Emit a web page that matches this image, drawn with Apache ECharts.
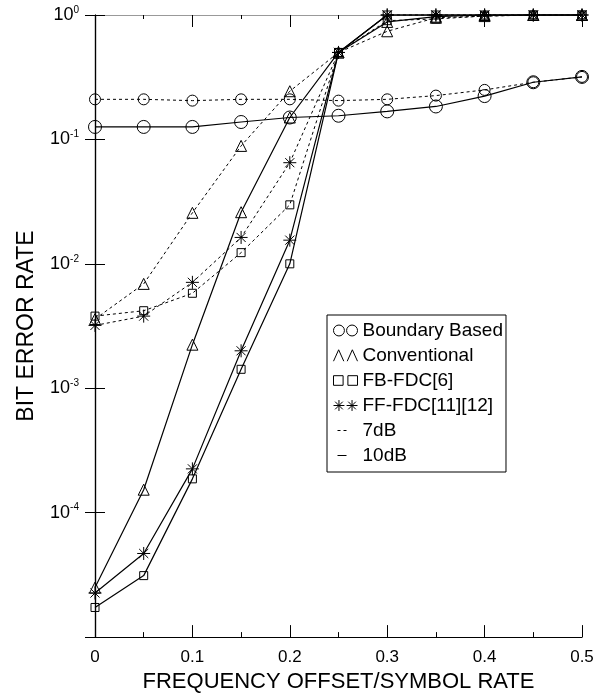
<!DOCTYPE html>
<html>
<head>
<meta charset="utf-8">
<script src="https://cdn.jsdelivr.net/npm/echarts@6/dist/echarts.min.js"></script>
<style>
  html, body { margin: 0; padding: 0; background: #fff; }
  #main { width: 601px; height: 698px; }
</style>
</head>
<body>
<div id="main"></div>
<script>
// frequency offset / symbol rate
const offsets = [0, 0.05, 0.1, 0.15, 0.2, 0.25, 0.3, 0.35, 0.4, 0.45, 0.5];

// bit error rate, 7dB (dashed) and 10dB (solid)
const boundary7 = [0.21, 0.21, 0.205, 0.21, 0.21, 0.205, 0.21, 0.225, 0.25, 0.288, 0.318];
const boundary10 = [0.126, 0.126, 0.126, 0.138, 0.15, 0.155, 0.168, 0.184, 0.223, 0.288, 0.318];
const conv7 = [0.0036, 0.0069, 0.0257, 0.0887, 0.244, 0.5, 0.74, 0.95, 0.98, 1, 1];
const conv10 = [0.000025, 0.000153, 0.00224, 0.026, 0.15, 0.5, 0.88, 0.97, 1, 1, 1];
const fb7 = [0.0038, 0.0042, 0.0058, 0.0123, 0.0298, 0.5, 0.9, 0.93, 0.98, 1, 1];
const fb10 = [0.0000173, 0.0000312, 0.000187, 0.00142, 0.01, 0.5, 1, 1, 1, 1, 1];
const ff7 = [0.0032, 0.0038, 0.0071, 0.0163, 0.065, 0.5, 1, 1, 1, 1, 1];
const ff10 = [0.0000226, 0.000047, 0.000225, 0.002, 0.0155, 0.5, 1, 1, 1, 1, 1];

const legendNames = ['Boundary Based', 'Conventional', 'FB-FDC[6]', 'FF-FDC[11][12]', '7dB', '10dB'];

const FONT = '"Liberation Sans", Arial, Helvetica, sans-serif';
const starPath = 'path://M0,-6L0,6M-6,0L6,0M-4.2,-4.2L4.2,4.2M-4.2,4.2L4.2,-4.2';
const dashType = [3, 3];

function pairs(ys) {
  return offsets.map((x, i) => [x, ys[i]]);
}

function makeSeries(name, ys, symbol, size, dashed) {
  return {
    name: name,
    type: 'line',
    data: pairs(ys),
    symbol: symbol,
    symbolSize: size,
    showAllSymbol: true,
    clip: false,
    lineStyle: { color: '#000', width: dashed ? 1 : 1.2, type: dashed ? dashType : 'solid' },
    itemStyle: { color: 'rgba(0,0,0,0)', borderColor: '#000', borderWidth: 1 },
    emphasis: { disabled: true }
  };
}

const chart = echarts.init(document.getElementById('main'), null, { renderer: 'canvas' });

const markerStyle = { color: 'rgba(0,0,0,0)', borderColor: '#000', borderWidth: 1 };

chart.setOption({
  animation: false,
  backgroundColor: '#fff',
  textStyle: { fontFamily: FONT, color: '#000' },
  grid: { left: 95, right: 19, top: 15, bottom: 57 },
  legend: {
    orient: 'vertical',
    left: 327,
    top: 315,
    backgroundColor: '#fff',
    borderColor: '#000',
    borderWidth: 1,
    padding: [6, 3, 7, 6],
    itemGap: 6,
    itemWidth: 24,
    itemHeight: 12,
    selectedMode: false,
    textStyle: { fontFamily: FONT, fontSize: 19, color: '#000' },
    data: [
      { name: legendNames[0], itemStyle: markerStyle,
        icon: 'path://M1,5A5,5,0,1,1,11,5A5,5,0,1,1,1,5ZM13,5A5,5,0,1,1,23,5A5,5,0,1,1,13,5Z' },
      { name: legendNames[1], itemStyle: markerStyle,
        icon: 'path://M1,10L5.5,0L10,10M13,10L17.5,0L22,10' },
      { name: legendNames[2], itemStyle: markerStyle,
        icon: 'path://M1,1L9,1L9,9L1,9ZM13,1L21,1L21,9L13,9Z' },
      { name: legendNames[3], itemStyle: markerStyle,
        icon: 'path://M5,0L5,10M0,5L10,5M1.5,1.5L8.5,8.5M1.5,8.5L8.5,1.5M17,0L17,10M12,5L22,5M13.5,1.5L20.5,8.5M13.5,8.5L20.5,1.5' },
      { name: legendNames[4], itemStyle: markerStyle,
        icon: 'path://M0,0M24,10M4,5L7,5M10,5L13,5' },
      { name: legendNames[5], itemStyle: markerStyle,
        icon: 'path://M0,0M24,10M4,5L13,5' }
    ]
  },
  xAxis: [
    {
      type: 'value',
      min: 0,
      max: 0.5,
      interval: 0.1,
      name: 'FREQUENCY OFFSET/SYMBOL RATE',
      nameLocation: 'middle',
      nameGap: 27,
      nameTextStyle: { fontSize: 22, fontFamily: FONT, color: '#000' },
      axisLine: { lineStyle: { color: '#000', width: 1.2 } },
      axisTick: { inside: true, length: 12, lineStyle: { color: '#000' } },
      minorTick: { show: true, splitNumber: 2, length: 5, lineStyle: { color: '#000' } },
      axisLabel: { fontSize: 17, margin: 12, color: '#000', formatter: v => String(+v.toFixed(2)) },
      splitLine: { show: false }
    },
    {
      type: 'value',
      position: 'top',
      min: 0,
      max: 0.5,
      interval: 0.1,
      axisLine: { lineStyle: { color: '#999', width: 1.2 } },
      axisTick: { inside: true, length: 12, lineStyle: { color: '#000' } },
      minorTick: { show: true, splitNumber: 2, length: 4, lineStyle: { color: '#000' } },
      axisLabel: { show: false },
      splitLine: { show: false }
    }
  ],
  yAxis: [
    {
      type: 'log',
      logBase: 10,
      min: 1e-5,
      max: 1,
      splitNumber: 5,
      name: 'BIT ERROR RATE',
      nameLocation: 'middle',
      nameGap: 57,
      nameTextStyle: { fontSize: 23, fontFamily: FONT, color: '#000' },
      axisLine: { lineStyle: { color: '#000', width: 1.2 } },
      axisTick: { inside: true, length: 10, lineStyle: { color: '#000' } },
      axisLabel: {
        margin: 16,
        formatter: function (v) {
          const e = Math.round(Math.log10(v));
          if (e <= -5) return '';
          return '{b|10}{s|' + e + '}';
        },
        rich: {
          b: { fontSize: 18, fontFamily: FONT, color: '#000', lineHeight: 20, verticalAlign: 'middle' },
          s: { fontSize: 10, fontFamily: FONT, color: '#000', lineHeight: 10, verticalAlign: 'top' }
        }
      },
      splitLine: { show: false }
    },
    {
      type: 'log',
      logBase: 10,
      min: 1e-5,
      max: 1,
      splitNumber: 5,
      position: 'right',
      axisLine: { show: true, lineStyle: { color: '#000', width: 1.2 } },
      axisTick: { show: true, inside: true, length: 10, lineStyle: { color: '#000' } },
      axisLabel: { show: false },
      splitLine: { show: false }
    }
  ],
  series: [
    makeSeries(legendNames[0], boundary7, 'circle', 11, true),
    makeSeries(legendNames[0], boundary10, 'circle', 13, false),
    makeSeries(legendNames[1], conv7, 'triangle', 11, true),
    makeSeries(legendNames[1], conv10, 'triangle', 11, false),
    makeSeries(legendNames[2], fb7, 'rect', 8, true),
    makeSeries(legendNames[2], fb10, 'rect', 8, false),
    makeSeries(legendNames[3], ff7, starPath, 13, true),
    makeSeries(legendNames[3], ff10, starPath, 13, false),
    { name: legendNames[4], type: 'line', data: [], lineStyle: { color: '#000', type: dashType } },
    { name: legendNames[5], type: 'line', data: [], lineStyle: { color: '#000' } }
  ]
});
</script>
</body>
</html>
